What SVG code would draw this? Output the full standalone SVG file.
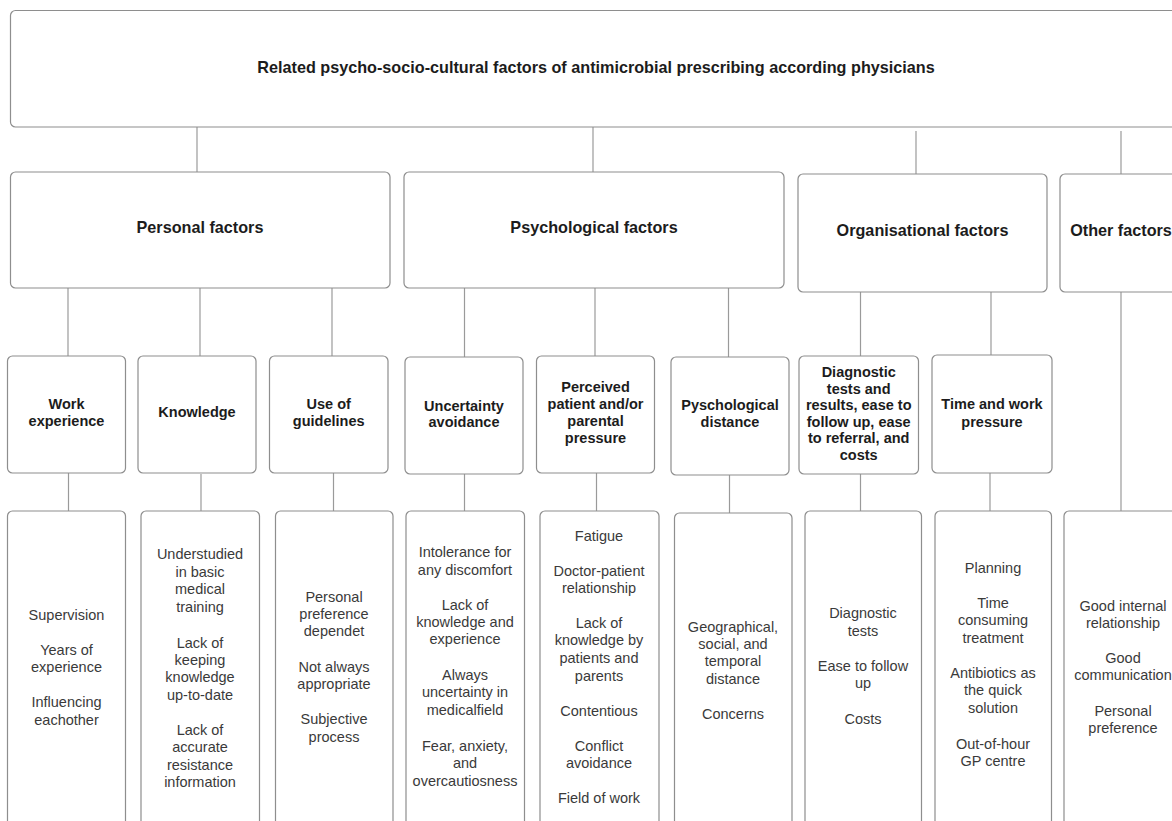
<svg xmlns="http://www.w3.org/2000/svg" width="1172" height="821" viewBox="0 0 1172 821">
<style>
.box{fill:#fff;stroke:#8e8e8e;stroke-width:1.2}
.conn line{stroke:#9a9a9a;stroke-width:1.2}
.h{font-family:"Liberation Sans",Arial,sans-serif;font-weight:bold;font-size:14.5px;fill:#1c1c1c;text-anchor:middle}
.hl{font-size:16.2px}
.t{font-family:"Liberation Sans",Arial,sans-serif;font-size:14.5px;fill:#3a3a3a;text-anchor:middle}
</style>
<rect width="1172" height="821" fill="#fff"/>
<g id="connectors" class="conn">
<line x1="197" y1="127" x2="197" y2="172"/>
<line x1="593" y1="127" x2="593" y2="172"/>
<line x1="916" y1="131" x2="916" y2="174"/>
<line x1="1121" y1="131" x2="1121" y2="174"/>
<line x1="68" y1="288" x2="68" y2="356"/>
<line x1="200" y1="288" x2="200" y2="356"/>
<line x1="332" y1="288" x2="332" y2="356"/>
<line x1="464.5" y1="288" x2="464.5" y2="357"/>
<line x1="595" y1="288" x2="595" y2="356"/>
<line x1="728.5" y1="288" x2="728.5" y2="357"/>
<line x1="860.5" y1="292" x2="860.5" y2="356"/>
<line x1="991" y1="292" x2="991" y2="355"/>
<line x1="1121" y1="292" x2="1121" y2="511"/>
<line x1="68.5" y1="473" x2="68.5" y2="511"/>
<line x1="201" y1="474" x2="201" y2="511"/>
<line x1="333.5" y1="473" x2="333.5" y2="511"/>
<line x1="464.5" y1="474" x2="464.5" y2="511"/>
<line x1="596.5" y1="473" x2="596.5" y2="511"/>
<line x1="729.5" y1="475" x2="729.5" y2="513"/>
<line x1="860.5" y1="474" x2="860.5" y2="511"/>
<line x1="990" y1="473" x2="990" y2="511"/>
</g>
<g id="title"><rect class="box" x="10.5" y="10.5" width="1200" height="116.5" rx="5"/><text class="h hl" x="596" y="73">Related psycho-socio-cultural factors of antimicrobial prescribing according physicians</text></g>
<g id="personal"><rect class="box" x="10.5" y="172" width="379.5" height="116" rx="5"/><text class="h hl" x="200" y="233">Personal factors</text></g>
<g id="psychological"><rect class="box" x="404" y="172" width="380" height="116" rx="5"/><text class="h hl" x="594" y="233">Psychological factors</text></g>
<g id="organisational"><rect class="box" x="798" y="174" width="249" height="118" rx="5"/><text class="h hl" x="922.5" y="236">Organisational factors</text></g>
<g id="other"><rect class="box" x="1060" y="174" width="140" height="118" rx="5"/><text class="h hl" x="1121" y="236">Other factors</text></g>

<g id="work"><rect class="box" x="7.5" y="356" width="118" height="117" rx="5"/><text class="h"><tspan x="66.5" y="409">Work</tspan><tspan x="66.5" y="426">experience</tspan></text></g>
<g id="knowledge"><rect class="box" x="138" y="356" width="118" height="117" rx="5"/><text class="h" x="197" y="417">Knowledge</text></g>
<g id="guidelines"><rect class="box" x="269.5" y="356" width="118.5" height="117" rx="5"/><text class="h"><tspan x="328.7" y="409">Use of</tspan><tspan x="328.7" y="426">guidelines</tspan></text></g>
<g id="uncertainty"><rect class="box" x="405" y="357" width="118" height="117" rx="5"/><text class="h"><tspan x="464" y="410.5">Uncertainty</tspan><tspan x="464" y="427">avoidance</tspan></text></g>
<g id="perceived"><rect class="box" x="536.5" y="356" width="118" height="117" rx="5"/><text class="h"><tspan x="595.5" y="392">Perceived</tspan><tspan x="595.5" y="409">patient and/or</tspan><tspan x="595.5" y="426">parental</tspan><tspan x="595.5" y="443">pressure</tspan></text></g>
<g id="distance"><rect class="box" x="671" y="357" width="118" height="118" rx="5"/><text class="h"><tspan x="730" y="410">Pyschological</tspan><tspan x="730" y="427">distance</tspan></text></g>
<g id="diagnostic"><rect class="box" x="799" y="356" width="119.5" height="118" rx="5"/><text class="h"><tspan x="858.7" y="377">Diagnostic</tspan><tspan x="858.7" y="393.5">tests and</tspan><tspan x="858.7" y="410">results, ease to</tspan><tspan x="858.7" y="426.5">follow up, ease</tspan><tspan x="858.7" y="443">to referral, and</tspan><tspan x="858.7" y="460">costs</tspan></text></g>
<g id="time"><rect class="box" x="932" y="355" width="120" height="118" rx="5"/><text class="h"><tspan x="992" y="409">Time and work</tspan><tspan x="992" y="427">pressure</tspan></text></g>

<g id="work-items"><rect class="box" x="7.5" y="511" width="118" height="330" rx="5"/><text class="t"><tspan x="66.5" y="620">Supervision</tspan><tspan x="66.5" y="655">Years of</tspan><tspan x="66.5" y="672">experience</tspan><tspan x="66.5" y="707">Influencing</tspan><tspan x="66.5" y="725">eachother</tspan></text></g>
<g id="knowledge-items"><rect class="box" x="141" y="511" width="118.5" height="330" rx="5"/><text class="t"><tspan x="200" y="559">Understudied</tspan><tspan x="200" y="577">in basic</tspan><tspan x="200" y="594">medical</tspan><tspan x="200" y="612">training</tspan><tspan x="200" y="648">Lack of</tspan><tspan x="200" y="665">keeping</tspan><tspan x="200" y="682">knowledge</tspan><tspan x="200" y="700">up-to-date</tspan><tspan x="200" y="735">Lack of</tspan><tspan x="200" y="752">accurate</tspan><tspan x="200" y="770">resistance</tspan><tspan x="200" y="787">information</tspan></text></g>
<g id="guidelines-items"><rect class="box" x="275.5" y="511" width="117.5" height="330" rx="5"/><text class="t"><tspan x="334" y="602">Personal</tspan><tspan x="334" y="619">preference</tspan><tspan x="334" y="636">dependet</tspan><tspan x="334" y="672">Not always</tspan><tspan x="334" y="689">appropriate</tspan><tspan x="334" y="724">Subjective</tspan><tspan x="334" y="742">process</tspan></text></g>
<g id="uncertainty-items"><rect class="box" x="406" y="511" width="118.5" height="330" rx="5"/><text class="t"><tspan x="465" y="557">Intolerance for</tspan><tspan x="465" y="574.5">any discomfort</tspan><tspan x="465" y="610">Lack of</tspan><tspan x="465" y="627">knowledge and</tspan><tspan x="465" y="644">experience</tspan><tspan x="465" y="680">Always</tspan><tspan x="465" y="697">uncertainty in</tspan><tspan x="465" y="715">medicalfield</tspan><tspan x="465" y="751">Fear, anxiety,</tspan><tspan x="465" y="768">and</tspan><tspan x="465" y="785.5">overcautiosness</tspan></text></g>
<g id="perceived-items"><rect class="box" x="540" y="511" width="119" height="330" rx="5"/><text class="t"><tspan x="599" y="540.5">Fatigue</tspan><tspan x="599" y="576">Doctor-patient</tspan><tspan x="599" y="593">relationship</tspan><tspan x="599" y="628">Lack of</tspan><tspan x="599" y="645">knowledge by</tspan><tspan x="599" y="663">patients and</tspan><tspan x="599" y="680.5">parents</tspan><tspan x="599" y="716">Contentious</tspan><tspan x="599" y="751">Conflict</tspan><tspan x="599" y="768">avoidance</tspan><tspan x="599" y="803">Field of work</tspan></text></g>
<g id="distance-items"><rect class="box" x="674.5" y="513" width="117.5" height="330" rx="5"/><text class="t"><tspan x="733" y="631.5">Geographical,</tspan><tspan x="733" y="649">social, and</tspan><tspan x="733" y="666">temporal</tspan><tspan x="733" y="684">distance</tspan><tspan x="733" y="719">Concerns</tspan></text></g>
<g id="diagnostic-items"><rect class="box" x="805" y="511" width="116.5" height="330" rx="5"/><text class="t"><tspan x="863" y="618">Diagnostic</tspan><tspan x="863" y="635.5">tests</tspan><tspan x="863" y="671">Ease to follow</tspan><tspan x="863" y="688">up</tspan><tspan x="863" y="724">Costs</tspan></text></g>
<g id="time-items"><rect class="box" x="935" y="511" width="116.5" height="330" rx="5"/><text class="t"><tspan x="993" y="573">Planning</tspan><tspan x="993" y="608">Time</tspan><tspan x="993" y="625">consuming</tspan><tspan x="993" y="643">treatment</tspan><tspan x="993" y="678">Antibiotics as</tspan><tspan x="993" y="695">the quick</tspan><tspan x="993" y="713">solution</tspan><tspan x="993" y="749">Out-of-hour</tspan><tspan x="993" y="766">GP centre</tspan></text></g>
<g id="other-items"><rect class="box" x="1064" y="511" width="140" height="330" rx="5"/><text class="t"><tspan x="1123" y="611">Good internal</tspan><tspan x="1123" y="628">relationship</tspan><tspan x="1123" y="662.5">Good</tspan><tspan x="1123" y="680">communication</tspan><tspan x="1123" y="716">Personal</tspan><tspan x="1123" y="733">preference</tspan></text></g>
</svg>
